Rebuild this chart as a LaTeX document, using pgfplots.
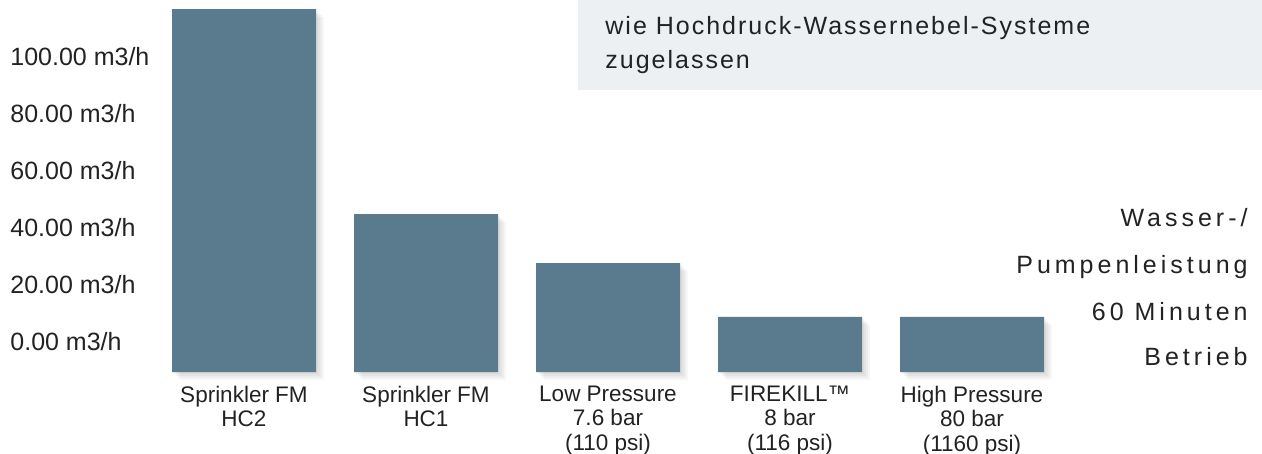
\documentclass[border=0pt]{standalone}
\usepackage{fontspec}
\setmainfont{Liberation Sans}
\newfontfamily\spacedfont[LetterSpace=16]{Liberation Sans}
\newfontfamily\boxfont[LetterSpace=8]{Liberation Sans}
\usepackage{pgfplots}
\pgfplotsset{compat=1.18}
\usepackage{pgfplotstable}
\definecolor{barblue}{HTML}{5A7B8D}
\definecolor{boxgray}{HTML}{EDF0F3}
\definecolor{txt}{HTML}{222222}

\pgfplotstableread{
idx flow
0 116.8
1 44.9
2 27.7
3 8.8
4 8.8
}\flowdata

\begin{document}
\begin{tikzpicture}[x=0.5pt,y=0.5pt]
\useasboundingbox (0,0) rectangle (1262,454);
\begin{axis}[
  at={(0,0)}, anchor=south west,
  scale only axis, width=631pt, height=227pt,
  xmin=-1.34066, xmax=5.59341,
  ymin=-28.77, ymax=130.53,
  axis line style={draw=none}, tick style={draw=none},
  ybar, bar width=72pt,
  ytick={10.53,30.53,50.53,70.53,90.53,110.53},
  yticklabels={0.00 m3/h,20.00 m3/h,40.00 m3/h,60.00 m3/h,80.00 m3/h,100.00 m3/h},
  yticklabel style={anchor=west, inner sep=0pt, xshift=5pt, text=txt, font=\fontsize{12.5}{15}\selectfont},
  xtick={0,1,2,3,4},
  xticklabels={{Sprinkler FM\\HC2},{Sprinkler FM\\HC1},{Low Pressure\\7.6 bar\\(110 psi)},{FIREKILL™\\8 bar\\(116 psi)},{High Pressure\\80 bar\\(1160 psi)}},
  xticklabel style={align=center, anchor=north, inner sep=0pt, yshift=38.5pt, text=txt, font=\fontsize{11.25}{12.2}\selectfont},
  clip=false,
]
\addplot[fill=barblue, draw=none,
  preaction={fill=black, opacity=0.04, transform canvas={shift={(1pt,-1pt)}}},
  preaction={fill=black, opacity=0.04, transform canvas={shift={(2pt,-2pt)}}},
  preaction={fill=black, opacity=0.04, transform canvas={shift={(3pt,-3pt)}}},
  preaction={fill=black, opacity=0.03, transform canvas={shift={(4pt,-4pt)}}},
] table[x=idx, y expr=\thisrow{flow}+10.53] {\flowdata};
\end{axis}
\fill[boxgray] (578,454) rectangle (1262,364);
\node[anchor=base west, inner sep=0pt, text=txt, font=\boxfont\fontsize{12.5}{15}\selectfont] at (605,419) {wie Hochdruck-Wassernebel-Systeme};
\node[anchor=base west, inner sep=0pt, text=txt, font=\boxfont\fontsize{12.5}{15}\selectfont] at (605,385) {zugelassen};
\node[anchor=base east, inner sep=0pt, text=txt, font=\spacedfont\fontsize{12.5}{15}\selectfont] at (1248,227) {Wasser-/};
\node[anchor=base east, inner sep=0pt, text=txt, font=\spacedfont\fontsize{12.5}{15}\selectfont] at (1248,180) {Pumpenleistung};
\node[anchor=base east, inner sep=0pt, text=txt, font=\spacedfont\fontsize{12.5}{15}\selectfont] at (1248,133) {60 Minuten};
\node[anchor=base east, inner sep=0pt, text=txt, font=\spacedfont\fontsize{12.5}{15}\selectfont] at (1248,88) {Betrieb};
\end{tikzpicture}
\end{document}
